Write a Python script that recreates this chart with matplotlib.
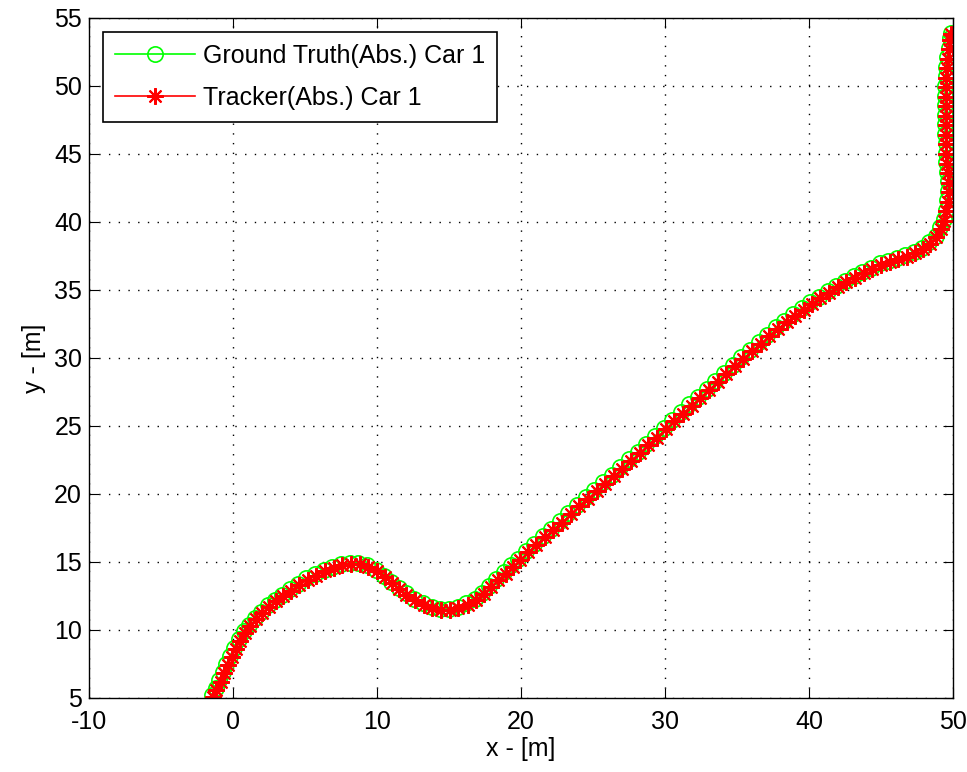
import matplotlib
matplotlib.use('Agg')
import matplotlib.pyplot as plt

plt.rcParams['font.family'] = ['Liberation Sans', 'DejaVu Sans']
plt.rcParams['axes.unicode_minus'] = False

# ground truth trajectory
gt_x = [-1.45, -1.2, -0.95, -0.7, -0.45, -0.2, 0.1, 0.4, 0.75, 1.1, 1.5, 1.95, 2.4, 2.9, 3.4,
        3.95, 4.5, 5.1, 5.7, 6.3, 6.9, 7.5, 8.1, 8.7, 9.3, 9.9, 10.5, 11.0, 11.5, 12.0,
        12.6, 13.2, 13.8, 14.4, 15.0, 15.6, 16.2, 16.8, 17.3, 17.8, 18.3, 18.8, 19.3, 19.8, 20.35,
        20.9, 21.5, 22.1, 22.7, 23.3, 23.9, 24.5, 25.1, 25.7, 26.3, 26.9, 27.5, 28.1, 28.7, 29.3,
        29.9, 30.5, 31.1, 31.7, 32.3, 32.9, 33.5, 34.1, 34.7, 35.3, 35.9, 36.5, 37.1, 37.7, 38.3,
        38.9, 39.5, 40.1, 40.7, 41.3, 41.9, 42.5, 43.1, 43.7, 44.3, 44.9, 45.5, 46.1, 46.7, 47.3,
        47.85, 48.35, 48.8, 49.1, 49.35, 49.5, 49.6, 49.65, 49.65, 49.6, 49.55, 49.5, 49.5, 49.45, 49.45,
        49.45, 49.45, 49.45, 49.45, 49.5, 49.55, 49.6, 49.7, 49.8, 49.85]
gt_y = [5.2, 5.7, 6.3, 6.9, 7.5, 8.1, 8.7, 9.3, 9.9, 10.4, 10.9, 11.35, 11.8, 12.2, 12.6,
        13.0, 13.4, 13.8, 14.1, 14.4, 14.65, 14.85, 14.95, 14.95, 14.75, 14.4, 14.0, 13.55, 13.1, 12.7,
        12.3, 11.95, 11.7, 11.55, 11.55, 11.7, 11.95, 12.3, 12.75, 13.25, 13.75, 14.25, 14.75, 15.25, 15.8,
        16.35, 16.9, 17.45, 18.0, 18.6, 19.2, 19.75, 20.3, 20.85, 21.4, 21.95, 22.55, 23.1, 23.7, 24.25,
        24.85, 25.45, 26.0, 26.6, 27.15, 27.75, 28.3, 28.9, 29.5, 30.05, 30.6, 31.15, 31.7, 32.25, 32.75,
        33.2, 33.65, 34.1, 34.5, 34.9, 35.3, 35.65, 36.0, 36.35, 36.65, 36.95, 37.15, 37.35, 37.55, 37.8,
        38.1, 38.5, 39.0, 39.6, 40.2, 40.9, 41.6, 42.3, 43.0, 43.7, 44.4, 45.1, 45.8, 46.5, 47.2,
        47.9, 48.6, 49.3, 50.0, 50.7, 51.4, 52.1, 52.8, 53.5, 53.9]

# tracker output
tr_x = [-1.4, -1.15, -0.85, -0.6, -0.35, -0.1, 0.2, 0.5, 0.85, 1.2, 1.6, 2.05, 2.5, 3.0, 3.5,
        4.05, 4.6, 5.2, 5.8, 6.4, 7.0, 7.6, 8.2, 8.8, 9.4, 10.0, 10.55, 11.05, 11.55, 12.05,
        12.65, 13.25, 13.85, 14.45, 15.05, 15.65, 16.3, 16.9, 17.4, 17.9, 18.4, 18.95, 19.45, 19.95, 20.5,
        21.05, 21.65, 22.25, 22.85, 23.45, 24.05, 24.65, 25.25, 25.85, 26.45, 27.05, 27.65, 28.25, 28.85, 29.45,
        30.05, 30.65, 31.25, 31.85, 32.45, 33.05, 33.65, 34.25, 34.85, 35.45, 36.05, 36.65, 37.25, 37.85, 38.45,
        39.05, 39.65, 40.2, 40.8, 41.4, 42.0, 42.6, 43.2, 43.8, 44.4, 45.0, 45.6, 46.2, 46.8, 47.35,
        47.9, 48.4, 48.85, 49.15, 49.4, 49.55, 49.65, 49.7, 49.7, 49.65, 49.6, 49.55, 49.55, 49.5, 49.5,
        49.5, 49.5, 49.5, 49.5, 49.55, 49.6, 49.65, 49.75, 49.8, 49.85]
tr_y = [5.1, 5.6, 6.2, 6.8, 7.4, 8.0, 8.6, 9.2, 9.8, 10.3, 10.8, 11.25, 11.7, 12.1, 12.5,
        12.9, 13.3, 13.7, 14.0, 14.3, 14.55, 14.75, 14.85, 14.85, 14.65, 14.3, 13.9, 13.45, 13.0, 12.6,
        12.2, 11.85, 11.6, 11.45, 11.45, 11.6, 11.85, 12.2, 12.65, 13.15, 13.65, 14.15, 14.65, 15.15, 15.7,
        16.25, 16.8, 17.35, 17.9, 18.5, 19.1, 19.65, 20.2, 20.75, 21.3, 21.85, 22.45, 23.0, 23.6, 24.15,
        24.75, 25.35, 25.9, 26.5, 27.05, 27.65, 28.2, 28.8, 29.4, 29.95, 30.5, 31.05, 31.6, 32.15, 32.65,
        33.1, 33.55, 34.0, 34.4, 34.8, 35.2, 35.55, 35.9, 36.25, 36.55, 36.85, 37.05, 37.25, 37.45, 37.7,
        38.0, 38.4, 38.9, 39.5, 40.1, 40.8, 41.5, 42.2, 42.9, 43.6, 44.3, 45.0, 45.7, 46.4, 47.1,
        47.8, 48.5, 49.2, 49.9, 50.6, 51.3, 52.0, 52.7, 53.4, 53.8]

fig = plt.figure(figsize=(9.67, 7.72), dpi=100)
ax = fig.add_axes([0.092, 0.0959, 0.8935, 0.8808])

ax.plot(gt_x, gt_y, color='#00ff00', lw=1.2, marker='o', markersize=11,
        markerfacecolor='none', markeredgewidth=1.2, label='Ground Truth(Abs.) Car 1')
# MATLAB style '*' = eight-armed asterisk
ax.plot(tr_x, tr_y, color='#ff0000', lw=1.2, marker=(8, 2, 0), markersize=12,
        markeredgewidth=1.5, label='Tracker(Abs.) Car 1')

ax.set_xlim(-10, 50)
ax.set_ylim(5, 55)
ax.set_xticks(range(-10, 51, 10))
ax.set_yticks(range(5, 56, 5))
ax.grid(True, color='black', linestyle=(0, (1, 6)), linewidth=1.0)
ax.tick_params(direction='in', length=7, top=True, right=True, labelsize=18, pad=5)
ax.tick_params(axis='x', pad=9)
for s in ax.spines.values():
    s.set_linewidth(1.0)

ax.set_xlabel('x - [m]', fontsize=18, labelpad=2)
ax.set_ylabel('y - [m]', fontsize=18, labelpad=6)

leg = ax.legend(loc='upper left', fontsize=18, fancybox=False, framealpha=1,
                edgecolor='black', borderaxespad=0.55, handlelength=3.2,
                handletextpad=0.3, labelspacing=0.7, borderpad=0.5)
leg.get_frame().set_linewidth(1.2)

fig.savefig('out.png', dpi=100)
